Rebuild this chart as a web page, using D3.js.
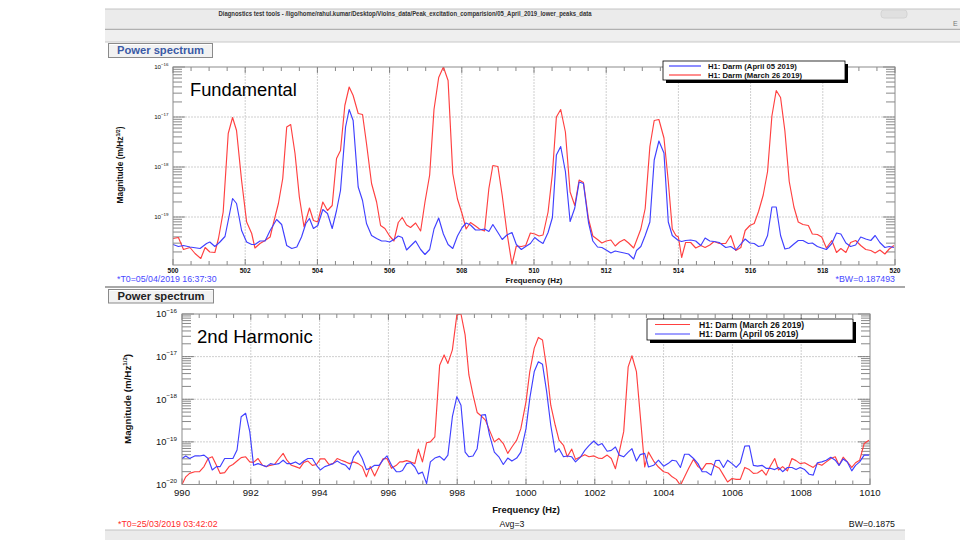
<!DOCTYPE html>
<html><head><meta charset="utf-8">
<script src="https://cdn.jsdelivr.net/npm/d3@7/dist/d3.min.js"></script>
<style>body{margin:0;background:#fff}svg{display:block;font-family:"Liberation Sans",Arial,sans-serif}</style>
</head><body><svg id="c" width="960" height="540"></svg>
<script>
// ---------- DATA (frequency in Hz, log10 of magnitude in m/Hz^1/2) ----------
const fundTicks=[500,502,504,506,508,510,512,514,516,518,520];
const harmTicks=[990,992,994,996,998,1000,1002,1004,1006,1008,1010];
const fundDecades=[-16,-17,-18,-19];
const harmDecades=[-16,-17,-18,-19,-20];
const fundLegend=["H1: Darm (April 05 2019)","H1: Darm (March 26 2019)"];
const harmLegend=["H1: Darm (March 26 2019)","H1: Darm (April 05 2019)"];
const fundTitle="Fundamental";
const harmTitle="2nd Harmonic";

const fundMarch=[[500.00,-19.43],[500.15,-19.41],[500.29,-19.65],[500.47,-19.61],[500.61,-19.73],[500.77,-19.83],[500.89,-19.61],[501.02,-19.70],[501.16,-19.71],[501.26,-19.43],[501.39,-18.90],[501.53,-17.33],[501.65,-17.01],[501.76,-17.27],[501.90,-18.27],[502.04,-19.10],[502.18,-19.33],[502.27,-19.62],[502.41,-19.53],[502.55,-19.47],[502.69,-19.40],[502.78,-19.13],[502.92,-18.73],[503.04,-18.23],[503.15,-17.20],[503.26,-17.15],[503.38,-17.73],[503.50,-18.60],[503.63,-19.20],[503.78,-18.82],[503.89,-19.07],[504.01,-19.10],[504.15,-18.70],[504.28,-18.87],[504.41,-18.77],[504.53,-17.83],[504.64,-17.67],[504.76,-16.77],[504.88,-16.40],[504.99,-16.57],[505.13,-16.93],[505.25,-16.95],[505.36,-17.53],[505.50,-18.33],[505.64,-18.70],[505.75,-19.17],[505.87,-19.23],[506.00,-19.38],[506.12,-19.48],[506.24,-19.11],[506.35,-19.01],[506.47,-19.16],[506.58,-19.21],[506.72,-19.12],[506.86,-19.28],[506.98,-18.70],[507.11,-18.16],[507.23,-16.85],[507.36,-16.21],[507.49,-16.00],[507.62,-16.27],[507.75,-18.13],[507.88,-18.64],[508.01,-18.94],[508.12,-19.24],[508.24,-19.11],[508.38,-19.18],[508.49,-19.24],[508.63,-19.28],[508.75,-18.43],[508.86,-17.97],[509.00,-17.99],[509.12,-18.57],[509.25,-19.31],[509.39,-19.95],[509.51,-19.58],[509.65,-19.59],[509.77,-19.57],[509.90,-19.32],[510.02,-19.34],[510.14,-19.38],[510.25,-19.36],[510.39,-18.90],[510.51,-18.13],[510.62,-17.00],[510.74,-16.85],[510.87,-17.30],[511.00,-18.50],[511.13,-18.77],[511.25,-18.26],[511.37,-18.31],[511.51,-19.04],[511.63,-19.38],[511.76,-19.45],[511.88,-19.52],[512.00,-19.48],[512.13,-19.46],[512.25,-19.58],[512.37,-19.50],[512.50,-19.45],[512.62,-19.52],[512.76,-19.62],[512.84,-19.47],[512.96,-19.24],[513.08,-18.83],[513.21,-17.59],[513.33,-17.07],[513.46,-17.05],[513.60,-17.42],[513.72,-18.29],[513.83,-19.24],[513.93,-19.37],[514.00,-19.40],[514.09,-19.81],[514.20,-19.51],[514.34,-19.51],[514.48,-19.62],[514.62,-19.57],[514.74,-19.61],[514.87,-19.56],[514.99,-19.49],[515.13,-19.53],[515.31,-19.53],[515.45,-19.37],[515.59,-19.67],[515.73,-19.61],[515.85,-19.27],[515.98,-19.17],[516.10,-19.13],[516.22,-18.89],[516.35,-18.56],[516.47,-18.09],[516.59,-16.98],[516.71,-16.47],[516.83,-16.61],[516.95,-17.28],[517.07,-18.29],[517.20,-18.80],[517.32,-19.10],[517.45,-19.15],[517.60,-19.17],[517.71,-19.34],[517.85,-19.35],[517.97,-19.40],[518.10,-19.62],[518.25,-19.47],[518.38,-19.71],[518.50,-19.63],[518.64,-19.71],[518.77,-19.51],[518.91,-19.47],[519.05,-19.57],[519.19,-19.65],[519.33,-19.67],[519.45,-19.72],[519.58,-19.66],[519.72,-19.74],[519.84,-19.64],[519.97,-19.57]];

const fundApril=[[500.00,-19.55],[500.15,-19.59],[500.29,-19.57],[500.47,-19.60],[500.75,-19.63],[500.93,-19.53],[501.02,-19.50],[501.16,-19.59],[501.30,-19.50],[501.44,-19.39],[501.53,-19.07],[501.65,-18.63],[501.76,-18.73],[501.90,-19.27],[502.04,-19.50],[502.18,-19.55],[502.27,-19.55],[502.41,-19.48],[502.55,-19.48],[502.69,-19.27],[502.87,-19.05],[503.01,-19.15],[503.15,-19.57],[503.29,-19.63],[503.43,-19.60],[503.56,-19.40],[503.68,-19.13],[503.78,-19.03],[503.89,-19.23],[504.01,-19.17],[504.15,-18.85],[504.28,-18.93],[504.41,-19.23],[504.53,-18.87],[504.64,-18.47],[504.78,-17.20],[504.88,-16.85],[504.99,-17.07],[505.13,-18.40],[505.25,-18.67],[505.36,-19.13],[505.50,-19.37],[505.64,-19.43],[505.78,-19.48],[505.89,-19.48],[506.00,-19.50],[506.12,-19.45],[506.24,-19.38],[506.35,-19.41],[506.47,-19.66],[506.58,-19.58],[506.72,-19.48],[506.86,-19.65],[506.98,-19.75],[507.11,-19.65],[507.23,-19.24],[507.36,-19.02],[507.49,-19.34],[507.62,-19.55],[507.75,-19.63],[507.88,-19.38],[508.01,-19.21],[508.12,-19.12],[508.24,-19.16],[508.38,-19.26],[508.49,-19.26],[508.63,-19.24],[508.75,-19.29],[508.86,-19.15],[509.00,-19.31],[509.12,-19.45],[509.25,-19.36],[509.39,-19.31],[509.51,-19.55],[509.65,-19.65],[509.77,-19.59],[509.90,-19.53],[510.02,-19.41],[510.14,-19.48],[510.25,-19.53],[510.39,-19.31],[510.51,-19.01],[510.62,-17.76],[510.74,-17.59],[510.87,-18.09],[511.00,-19.09],[511.13,-18.82],[511.25,-18.30],[511.37,-18.33],[511.51,-19.11],[511.63,-19.48],[511.76,-19.60],[511.88,-19.61],[512.00,-19.66],[512.13,-19.72],[512.25,-19.68],[512.37,-19.70],[512.50,-19.72],[512.62,-19.74],[512.76,-19.84],[512.84,-19.67],[512.96,-19.59],[513.08,-19.37],[513.21,-19.10],[513.33,-17.86],[513.46,-17.48],[513.60,-17.72],[513.72,-19.10],[513.83,-19.37],[514.00,-19.47],[514.09,-19.49],[514.20,-19.47],[514.34,-19.46],[514.48,-19.48],[514.62,-19.57],[514.74,-19.42],[514.87,-19.48],[514.99,-19.49],[515.13,-19.51],[515.31,-19.61],[515.45,-19.59],[515.59,-19.66],[515.73,-19.54],[515.85,-19.44],[515.98,-19.52],[516.10,-19.53],[516.22,-19.59],[516.35,-19.57],[516.47,-19.37],[516.59,-18.80],[516.71,-18.80],[516.83,-19.37],[516.95,-19.64],[517.07,-19.62],[517.20,-19.54],[517.32,-19.47],[517.45,-19.47],[517.60,-19.53],[517.71,-19.52],[517.85,-19.59],[517.97,-19.62],[518.10,-19.65],[518.25,-19.53],[518.38,-19.32],[518.50,-19.34],[518.64,-19.52],[518.77,-19.59],[518.91,-19.56],[519.05,-19.40],[519.19,-19.44],[519.33,-19.47],[519.45,-19.37],[519.58,-19.51],[519.72,-19.61],[519.84,-19.59],[519.97,-19.61]];

const harmMarch=[[990.00,-20.00],[990.11,-19.82],[990.22,-19.74],[990.37,-19.70],[990.51,-19.70],[990.64,-19.58],[990.76,-19.39],[990.88,-19.35],[991.00,-19.55],[991.11,-19.74],[991.24,-19.72],[991.37,-19.58],[991.48,-19.53],[991.60,-19.45],[991.72,-19.37],[991.85,-19.35],[991.97,-19.47],[992.08,-19.48],[992.21,-19.39],[992.34,-19.55],[992.45,-19.58],[992.57,-19.55],[992.69,-19.53],[992.82,-19.39],[992.94,-19.27],[993.05,-19.43],[993.18,-19.55],[993.30,-19.58],[993.42,-19.62],[993.54,-19.48],[993.66,-19.45],[993.79,-19.55],[993.91,-19.53],[994.02,-19.40],[994.15,-19.40],[994.27,-19.53],[994.39,-19.51],[994.51,-19.39],[994.63,-19.43],[994.76,-19.47],[994.87,-19.51],[994.99,-19.47],[995.12,-19.51],[995.24,-19.58],[995.36,-19.82],[995.47,-19.58],[995.60,-19.80],[995.73,-19.58],[995.84,-19.40],[995.96,-19.39],[996.09,-19.62],[996.23,-19.55],[996.33,-19.47],[996.41,-19.47],[996.53,-19.44],[996.65,-19.47],[996.77,-19.51],[996.87,-19.17],[996.99,-19.47],[997.11,-19.02],[997.22,-19.00],[997.35,-18.88],[997.49,-17.20],[997.62,-16.96],[997.73,-17.16],[997.86,-16.84],[997.99,-16.02],[998.11,-16.00],[998.23,-16.49],[998.34,-17.43],[998.46,-17.90],[998.58,-18.31],[998.71,-18.40],[998.82,-18.49],[998.94,-18.73],[999.08,-19.00],[999.21,-18.92],[999.34,-19.04],[999.47,-19.27],[999.59,-19.12],[999.73,-18.96],[999.85,-18.69],[1000.00,-18.06],[1000.11,-17.35],[1000.24,-16.80],[1000.36,-16.55],[1000.48,-16.61],[1000.60,-17.27],[1000.72,-18.14],[1000.85,-18.61],[1000.96,-18.96],[1001.09,-19.08],[1001.20,-19.35],[1001.33,-19.17],[1001.44,-19.41],[1001.59,-19.35],[1001.71,-19.30],[1001.83,-19.35],[1001.97,-19.33],[1002.10,-19.38],[1002.21,-19.39],[1002.36,-19.31],[1002.48,-19.39],[1002.60,-19.63],[1002.71,-19.24],[1002.84,-18.76],[1002.97,-17.24],[1003.08,-16.98],[1003.21,-17.35],[1003.32,-18.37],[1003.45,-19.59],[1003.56,-19.24],[1003.71,-19.45],[1003.85,-19.59],[1004.00,-19.70],[1004.13,-19.73],[1004.25,-19.82],[1004.37,-19.88],[1004.49,-20.02],[1004.61,-19.82],[1004.73,-19.62],[1004.87,-19.41],[1005.00,-19.58],[1005.12,-19.65],[1005.24,-19.51],[1005.38,-19.51],[1005.51,-19.57],[1005.62,-19.62],[1005.74,-19.78],[1005.86,-19.94],[1005.99,-19.86],[1006.11,-19.88],[1006.23,-19.88],[1006.36,-19.60],[1006.49,-19.65],[1006.61,-19.74],[1006.73,-19.73],[1006.86,-19.66],[1006.98,-19.78],[1007.10,-19.57],[1007.23,-19.39],[1007.34,-19.66],[1007.46,-19.58],[1007.60,-19.68],[1007.73,-19.39],[1007.85,-19.44],[1007.97,-19.51],[1008.10,-19.49],[1008.23,-19.55],[1008.35,-19.60],[1008.47,-19.51],[1008.60,-19.55],[1008.73,-19.47],[1008.86,-19.39],[1008.99,-19.35],[1009.10,-19.55],[1009.22,-19.36],[1009.34,-19.47],[1009.47,-19.60],[1009.58,-19.49],[1009.70,-19.43],[1009.83,-19.04],[1009.97,-18.96]];

const harmApril=[[990.00,-19.39],[990.11,-19.33],[990.22,-19.39],[990.37,-19.33],[990.51,-19.33],[990.64,-19.31],[990.76,-19.39],[990.88,-19.66],[991.00,-19.58],[991.11,-19.58],[991.24,-19.39],[991.37,-19.39],[991.48,-19.39],[991.60,-19.19],[991.72,-18.41],[991.85,-18.33],[991.97,-18.76],[992.08,-19.55],[992.21,-19.51],[992.34,-19.55],[992.45,-19.58],[992.57,-19.51],[992.69,-19.53],[992.82,-19.51],[992.94,-19.43],[993.05,-19.51],[993.18,-19.51],[993.30,-19.47],[993.42,-19.53],[993.54,-19.45],[993.66,-19.39],[993.79,-19.39],[993.91,-19.55],[994.02,-19.66],[994.15,-19.58],[994.27,-19.55],[994.39,-19.51],[994.51,-19.45],[994.63,-19.51],[994.76,-19.55],[994.87,-19.65],[994.99,-19.35],[995.12,-19.21],[995.24,-19.39],[995.36,-19.65],[995.47,-19.62],[995.60,-19.55],[995.73,-19.55],[995.84,-19.43],[995.96,-19.33],[996.09,-19.55],[996.23,-19.70],[996.33,-19.70],[996.41,-19.67],[996.53,-19.51],[996.65,-19.49],[996.77,-19.59],[996.87,-19.75],[996.99,-19.71],[997.11,-19.98],[997.22,-19.47],[997.35,-19.38],[997.49,-19.34],[997.62,-19.43],[997.73,-19.31],[997.86,-18.41],[997.99,-17.94],[998.11,-18.14],[998.23,-19.24],[998.34,-19.35],[998.46,-19.33],[998.58,-19.16],[998.71,-18.37],[998.82,-18.36],[998.94,-18.84],[999.08,-19.24],[999.21,-19.35],[999.34,-19.53],[999.47,-19.38],[999.59,-19.45],[999.73,-19.38],[999.85,-19.24],[1000.00,-18.69],[1000.11,-17.98],[1000.24,-17.35],[1000.36,-17.12],[1000.48,-17.18],[1000.60,-17.82],[1000.72,-18.61],[1000.85,-19.24],[1000.96,-19.16],[1001.09,-19.35],[1001.20,-19.33],[1001.33,-19.35],[1001.44,-19.47],[1001.59,-19.35],[1001.71,-19.20],[1001.83,-19.09],[1001.97,-18.98],[1002.10,-19.08],[1002.21,-19.04],[1002.36,-19.22],[1002.48,-19.20],[1002.60,-19.12],[1002.71,-19.31],[1002.84,-19.35],[1002.97,-19.24],[1003.08,-19.16],[1003.21,-19.45],[1003.32,-19.30],[1003.45,-19.27],[1003.56,-19.59],[1003.71,-19.55],[1003.85,-19.43],[1004.00,-19.57],[1004.13,-19.51],[1004.25,-19.43],[1004.37,-19.45],[1004.49,-19.60],[1004.61,-19.29],[1004.73,-19.29],[1004.87,-19.39],[1005.00,-19.51],[1005.12,-19.70],[1005.24,-19.70],[1005.38,-19.78],[1005.51,-19.44],[1005.62,-19.43],[1005.74,-19.60],[1005.86,-19.43],[1005.99,-19.51],[1006.11,-19.60],[1006.23,-19.49],[1006.36,-19.10],[1006.49,-19.09],[1006.61,-19.55],[1006.73,-19.57],[1006.86,-19.55],[1006.98,-19.62],[1007.10,-19.62],[1007.23,-19.65],[1007.34,-19.60],[1007.46,-19.70],[1007.60,-19.60],[1007.73,-19.60],[1007.85,-19.65],[1007.97,-19.60],[1008.10,-19.65],[1008.23,-19.76],[1008.35,-19.78],[1008.47,-19.49],[1008.60,-19.47],[1008.73,-19.43],[1008.86,-19.36],[1008.99,-19.43],[1009.10,-19.55],[1009.22,-19.40],[1009.34,-19.47],[1009.47,-19.68],[1009.58,-19.55],[1009.70,-19.47],[1009.83,-19.31],[1009.97,-19.31]];

// ---------- DRAWING ----------
const RED="#ff4040", BLUE="#4040ff";
const svg=d3.select("#c");
svg.append("rect").attr("width",960).attr("height",540).attr("fill","#fff");

// window header
svg.append("rect").attr("x",105).attr("y",9).attr("width",855).attr("height",20).attr("fill","#ebebeb");
svg.append("line").attr("x1",105).attr("x2",960).attr("y1",9).attr("y2",9).attr("stroke","#c4c4c4");
svg.append("line").attr("x1",105).attr("x2",960).attr("y1",29.5).attr("y2",29.5).attr("stroke","#b0b0b0").attr("stroke-width",1.5);
svg.append("rect").attr("x",105).attr("y",30).attr("width",855).attr("height",12).attr("fill","#efefef");
svg.append("line").attr("x1",105).attr("x2",960).attr("y1",42).attr("y2",42).attr("stroke","#c8c8c8");
svg.append("text").attr("x",405).attr("y",16).attr("text-anchor","middle").attr("font-size",6.3).attr("font-weight","bold").attr("fill","#333")
  .attr("textLength",373).attr("lengthAdjust","spacingAndGlyphs")
  .text("Diagnostics test tools - /ligo/home/rahul.kumar/Desktop/Violns_data/Peak_excitation_comparision/05_April_2019_lower_peaks_data");
svg.append("rect").attr("x",881).attr("y",10).attr("width",26).attr("height",8).attr("rx",3).attr("fill","#e0e0e0").attr("stroke","#d4d4d4");
svg.append("text").attr("x",953).attr("y",26).attr("font-size",7).attr("fill","#777").text("E");

function button(x,y,w,h,label,color){
  svg.append("rect").attr("x",x).attr("y",y).attr("width",w).attr("height",h).attr("fill","#f2f2f2").attr("stroke","#8a8a8a");
  svg.append("line").attr("x1",x+1).attr("x2",x+w-1).attr("y1",y+1).attr("y2",y+1).attr("stroke","#fff");
  svg.append("text").attr("x",x+w/2).attr("y",y+h-3.2).attr("text-anchor","middle").attr("font-size",11.2).attr("font-weight","bold").attr("fill",color).text(label);
}
button(108.5,43.5,104,14,"Power spectrum","#3a5aa6");

function panel(o){
  const g=svg.append("g");
  const x=d3.scaleLinear().domain(o.xDomain).range([o.left,o.right]);
  const y=d3.scaleLog().domain([Math.pow(10,o.yMinExp),Math.pow(10,o.yMaxExp)]).range([o.bottom,o.top]);
  const id="clip"+o.name;
  svg.append("clipPath").attr("id",id).append("rect").attr("x",o.left).attr("y",o.top).attr("width",o.right-o.left).attr("height",o.bottom-o.top);
  // grid
  o.xTicks.forEach(t=>{
    if(t>o.xDomain[0]&&t<o.xDomain[1])
      g.append("line").attr("x1",x(t)).attr("x2",x(t)).attr("y1",o.top).attr("y2",o.bottom).attr("stroke","#cfcfcf").attr("stroke-dasharray","2,1");
  });
  o.decades.forEach(e=>{
    if(e>o.yMinExp&&e<o.yMaxExp)
      g.append("line").attr("x1",o.left).attr("x2",o.right).attr("y1",y(Math.pow(10,e))).attr("y2",y(Math.pow(10,e))).attr("stroke","#cfcfcf").attr("stroke-dasharray","2,1");
  });
  // x ticks (major + 0.5 Hz minor) on top and bottom edges
  d3.range(o.xDomain[0],o.xDomain[1]+1e-9,0.5).forEach(t=>{
    const major=o.xTicks.includes(t), len=major?o.xMajLen:o.xMinLen;
    g.append("line").attr("x1",x(t)).attr("x2",x(t)).attr("y1",o.bottom).attr("y2",o.bottom-len).attr("stroke","#555").attr("stroke-width",0.7);
    g.append("line").attr("x1",x(t)).attr("x2",x(t)).attr("y1",o.top).attr("y2",o.top+len).attr("stroke","#555").attr("stroke-width",0.7);
  });
  // y log ticks on left and right edges
  const lo=Math.pow(10,o.yMinExp)*0.999, hi=Math.pow(10,o.yMaxExp)*1.001;
  o.decades.concat([o.decades[o.decades.length-1]-1]).forEach(e=>{
    for(let m=1;m<=9;m++){
      const v=m*Math.pow(10,e);
      if(v<lo||v>hi) continue;
      const len=m===1?o.yMajLen:o.yMinLen, yy=y(v);
      g.append("line").attr("x1",o.left).attr("x2",o.left+len).attr("y1",yy).attr("y2",yy).attr("stroke","#555").attr("stroke-width",0.7);
      g.append("line").attr("x1",o.right).attr("x2",o.right-len).attr("y1",yy).attr("y2",yy).attr("stroke","#555").attr("stroke-width",0.7);
    }
  });
  // series
  const line=d3.line().x(d=>x(d[0])).y(d=>y(Math.pow(10,d[1])));
  const lg=g.append("g").attr("clip-path","url(#"+id+")");
  o.series.forEach(s=>{
    lg.append("path").datum(s.data).attr("d",line).attr("fill","none").attr("stroke",s.color).attr("stroke-width",1.15).attr("stroke-linejoin","round");
  });
  // frame
  g.append("rect").attr("x",o.left).attr("y",o.top).attr("width",o.right-o.left).attr("height",o.bottom-o.top).attr("fill","none").attr("stroke","#8c8c8c").attr("stroke-width",1);
  // x tick labels
  o.xTicks.forEach(t=>{
    g.append("text").attr("x",x(t)).attr("y",o.bottom+o.xLblDy).attr("text-anchor","middle").attr("font-size",o.xLblSize).attr("font-weight",o.xLblWeight).attr("fill","#111").text(t);
  });
  // y tick labels 10^e
  o.decades.forEach(e=>{
    const yy=y(Math.pow(10,e));
    const t=g.append("text").attr("x",o.left-o.yLblGap).attr("y",yy+o.yLblSize*0.36).attr("text-anchor","end").attr("fill","#111").attr("font-size",o.yLblSize);
    t.append("tspan").text("10");
    t.append("tspan").attr("font-size",o.ySupSize).attr("dy",-o.yLblSize*0.5).text(String(e).replace("-","\u2212"));
  });
  // axis titles
  g.append("text").attr("x",(o.left+o.right)/2+o.xTitleDx).attr("y",o.xTitleY).attr("text-anchor","middle").attr("font-size",o.xTitleSize).attr("font-weight","bold").attr("fill","#111").text("Frequency (Hz)");
  const yt=g.append("text").attr("transform","translate("+o.yTitleX+","+o.yTitleY+") rotate(-90)").attr("text-anchor","middle").attr("font-size",o.yTitleSize).attr("font-weight","bold").attr("fill","#111");
  yt.append("tspan").text("Magnitude (m/Hz");
  yt.append("tspan").attr("font-size",o.yTitleSize*0.62).attr("dy",-o.yTitleSize*0.4).text("1/2");
  yt.append("tspan").attr("dy",o.yTitleSize*0.4).text(")");
  // big title
  g.append("text").attr("x",o.titleX).attr("y",o.titleY).attr("font-size",o.titleSize).attr("fill","#000").text(o.title);
  // legend
  const L=o.legend;
  g.append("rect").attr("x",L.x+3).attr("y",L.y+3).attr("width",L.w).attr("height",L.h).attr("fill","#000");
  g.append("rect").attr("x",L.x).attr("y",L.y).attr("width",L.w).attr("height",L.h).attr("fill","#fff").attr("stroke","#000").attr("stroke-width",0.8);
  L.items.forEach((it,i)=>{
    const yy=L.y+L.rowY[i];
    g.append("line").attr("x1",L.x+L.lx0).attr("x2",L.x+L.lx1).attr("y1",yy).attr("y2",yy).attr("stroke",it.color).attr("stroke-width",1.2);
    g.append("text").attr("x",L.x+L.tx).attr("y",yy+L.size*0.36).attr("font-size",L.size).attr("font-weight","bold").attr("fill","#111").text(it.label);
  });
}

panel({name:"fund",left:173,right:895,top:67,bottom:265,xDomain:[500,520],yMinExp:-19.96,yMaxExp:-16,
  xTicks:fundTicks,decades:fundDecades,xMajLen:6,xMinLen:4,yMajLen:12,yMinLen:9,
  xLblDy:7.5,xLblSize:6.6,xLblWeight:"bold",yLblGap:4.5,yLblSize:6.2,ySupSize:4.4,
  xTitleDx:0,xTitleY:282.5,xTitleSize:7.9,yTitleX:123,yTitleY:165,yTitleSize:8.4,
  title:fundTitle,titleX:190,titleY:96,titleSize:18.3,
  series:[{data:fundMarch,color:RED},{data:fundApril,color:BLUE}],
  legend:{x:663,y:61,w:182,h:19,lx0:6,lx1:38,tx:45,size:7.7,rowY:[5,14],
    items:[{label:fundLegend[0],color:BLUE},{label:fundLegend[1],color:RED}]}});

// status line of top panel
svg.append("text").attr("x",117).attr("y",281.5).attr("font-size",8.8).attr("fill","#4848ff").text("*T0=05/04/2019 16:37:30");
svg.append("text").attr("x",895).attr("y",281.5).attr("text-anchor","end").attr("font-size",8.8).attr("fill","#4848ff").text("*BW=0.187493");
svg.append("line").attr("x1",105).attr("x2",905).attr("y1",287).attr("y2",287).attr("stroke","#a8a8a8").attr("stroke-width",1.8);
button(108.5,289.5,105,13.5,"Power spectrum","#222");

panel({name:"harm",left:182,right:870,top:314,bottom:484.5,xDomain:[990,1010],yMinExp:-20,yMaxExp:-16,
  xTicks:harmTicks,decades:harmDecades,xMajLen:6,xMinLen:4,yMajLen:12,yMinLen:9,
  xLblDy:11,xLblSize:9.6,xLblWeight:"normal",yLblGap:5,yLblSize:9.4,ySupSize:6.2,
  xTitleDx:0,xTitleY:513,xTitleSize:9.4,yTitleX:131,yTitleY:399,yTitleSize:9.8,
  title:harmTitle,titleX:197,titleY:343,titleSize:18.6,
  series:[{data:harmMarch,color:RED},{data:harmApril,color:BLUE}],
  legend:{x:647,y:319,w:206,h:21,lx0:8,lx1:43,tx:52,size:8.6,rowY:[5.5,15],
    items:[{label:harmLegend[0],color:RED},{label:harmLegend[1],color:BLUE}]}});

// status line of bottom panel
svg.append("text").attr("x",118).attr("y",526.5).attr("font-size",8.8).attr("fill","#ff2a2a").text("*T0=25/03/2019 03:42:02");
svg.append("text").attr("x",512).attr("y",526.5).attr("text-anchor","middle").attr("font-size",8.8).attr("fill","#111").text("Avg=3");
svg.append("text").attr("x",895).attr("y",526.5).attr("text-anchor","end").attr("font-size",8.8).attr("fill","#111").text("BW=0.1875");
svg.append("rect").attr("x",105).attr("y",530).attr("width",800).attr("height",10).attr("fill","#ebebeb");
svg.append("line").attr("x1",105).attr("x2",905).attr("y1",530).attr("y2",530).attr("stroke","#c4c4c4");
</script></body></html>
